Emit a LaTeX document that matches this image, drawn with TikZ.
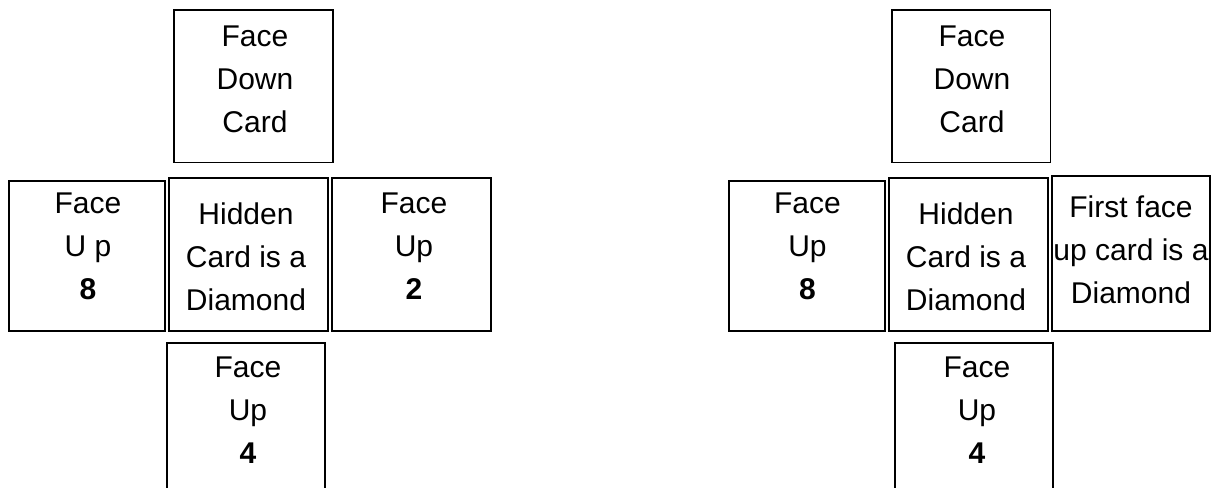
\documentclass[tikz,border=0pt]{standalone}
\usepackage{fontspec}
\setmainfont{Liberation Sans}

\begin{document}
\begin{tikzpicture}[x=0.5pt,y=-0.5pt,
  card/.style={draw,line width=0.9pt,inner sep=0pt},
  cardtext/.style={align=center,inner sep=0pt,font=\fontsize{15}{21.5}\selectfont}]
  \useasboundingbox (0,0) rectangle (1212,488);
  % left layout
  \node[card,minimum width=79.4pt,minimum height=76.2pt] (downA) at (253.7,86.2) {};
  \node[card,minimum width=78pt,minimum height=74.9pt] (leftA) at (87,255.8) {};
  \node[card,minimum width=79.2pt,minimum height=76.2pt] (midA) at (248.5,254.5) {};
  \node[card,minimum width=79.4pt,minimum height=76.2pt] (rightA) at (411.3,254.5) {};
  \node[card,minimum width=79pt,minimum height=76pt] (bottomA) at (245.7,419.2) {};
  \node[cardtext] (downAtxt) at (255,79) {Face\\Down\\Card};
  \node[cardtext] (leftAtxt) at (88,246.3) {Face\\U p\\\textbf{8}};
  \node[cardtext] (midAtxt) at (246,256.3) {Hidden\\Card is a\\Diamond};
  \node[cardtext] (rightAtxt) at (414,246.3) {Face\\Up\\\textbf{2}};
  \node[cardtext] (bottomAtxt) at (248,410.3) {Face\\Up\\\textbf{4}};
  % right layout
  \node[card,minimum width=79.2pt,minimum height=76.2pt] (downB) at (971.2,86.2) {};
  \node[card,minimum width=78pt,minimum height=74.9pt] (leftB) at (807,255.8) {};
  \node[card,minimum width=79.2pt,minimum height=76.2pt] (midB) at (968.5,254.5) {};
  \node[card,minimum width=79pt,minimum height=77.5pt] (rightB) at (1131,253.2) {};
  \node[card,minimum width=78.9pt,minimum height=76pt] (bottomB) at (973.8,419.2) {};
  \node[cardtext] (downBtxt) at (972,79) {Face\\Down\\Card};
  \node[cardtext] (leftBtxt) at (807.5,246.3) {Face\\Up\\\textbf{8}};
  \node[cardtext] (midBtxt) at (966,256.3) {Hidden\\Card is a\\Diamond};
  \node[cardtext] (rightBtxt) at (1131,249.6) {First face\\up card is a\\Diamond};
  \node[cardtext] (bottomBtxt) at (977,410.3) {Face\\Up\\\textbf{4}};
\end{tikzpicture}
\end{document}
